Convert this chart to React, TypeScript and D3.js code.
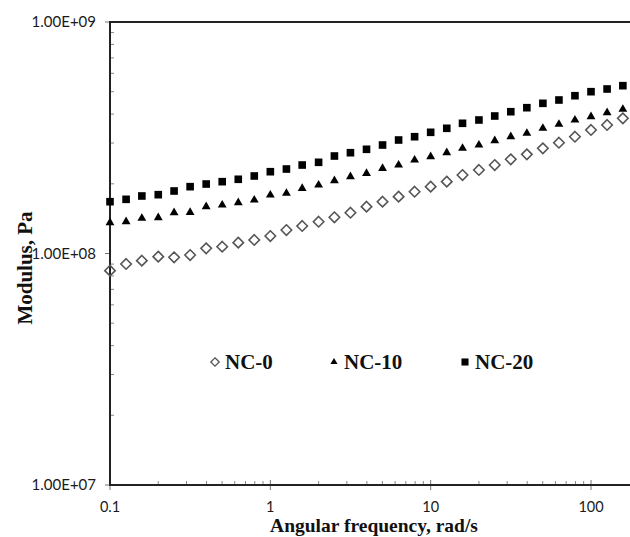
import React from "react";
import * as d3 from "d3";

// angular frequency, rad/s (10 points per decade)
const freq = [
  0.1, 0.126, 0.158, 0.2, 0.251, 0.316, 0.398, 0.501, 0.631, 0.794,
  1, 1.26, 1.58, 2, 2.51, 3.16, 3.98, 5.01, 6.31, 7.94,
  10, 12.6, 15.8, 20, 25.1, 31.6, 39.8, 50.1, 63.1, 79.4,
  100, 126, 158,
];

// modulus, x1e8 Pa
const nc0 = [
  0.843, 0.901, 0.931, 0.969, 0.963, 0.985, 1.053, 1.07, 1.114, 1.144,
  1.19, 1.263, 1.315, 1.372, 1.434, 1.5, 1.593, 1.674, 1.76, 1.849,
  1.944, 2.043, 2.183, 2.295, 2.411, 2.552, 2.682, 2.847, 3.01, 3.195,
  3.416, 3.59, 3.837,
];
const nc10 = [
  1.358, 1.372, 1.419, 1.428, 1.5, 1.505, 1.593, 1.62, 1.657, 1.702,
  1.789, 1.82, 1.912, 1.976, 2.063, 2.147, 2.22, 2.333, 2.411, 2.534,
  2.619, 2.725, 2.847, 2.942, 3.071, 3.195, 3.305, 3.474, 3.615, 3.773,
  3.898, 4.057, 4.197,
];
const nc20 = [
  1.674, 1.714, 1.772, 1.795, 1.862, 1.944, 1.996, 2.043, 2.092, 2.162,
  2.256, 2.317, 2.411, 2.477, 2.637, 2.725, 2.819, 2.942, 3.092, 3.195,
  3.338, 3.474, 3.651, 3.773, 3.926, 4.097, 4.264, 4.454, 4.603, 4.804,
  5.0, 5.136, 5.307,
];

const xTicks = [0.1, 1, 10, 100];
const yTicks = [1e7, 1e8, 1e9];
const yTickLabels = ["1.00E+07", "1.00E+08", "1.00E+09"];
const seriesNames = ["NC-0", "NC-10", "NC-20"];

const W = 630;
const H = 537;

const App = () => {
  const x = d3.scaleLog().domain([0.1, 100]).range([110, 591]);
  const y = d3.scaleLog().domain([1e7, 1e9]).range([485, 22]);

  const xMinor: number[] = [];
  [0.1, 1, 10, 100].forEach((d) => {
    for (let k = 2; k <= 9; k++) if (x(d * k) < W) xMinor.push(d * k);
  });
  const yMinor: number[] = [];
  [1e7, 1e8].forEach((d) => {
    for (let k = 2; k <= 9; k++) yMinor.push(d * k);
  });

  const diamond = d3.symbol(d3.symbolDiamond2, 70)();
  const triangle = d3.symbol(d3.symbolTriangle, 34)();
  const square = d3.symbol(d3.symbolSquare, 58)();

  const series = [
    { name: seriesNames[0], vals: nc0, path: diamond, fill: "none", stroke: "#555" },
    { name: seriesNames[1], vals: nc10, path: triangle, fill: "#000", stroke: "none" },
    { name: seriesNames[2], vals: nc20, path: square, fill: "#000", stroke: "none" },
  ];

  const legendX = [215, 334, 465];
  const legendSym = [
    d3.symbol(d3.symbolDiamond2, 45)(),
    d3.symbol(d3.symbolTriangle, 22)(),
    d3.symbol(d3.symbolSquare, 50)(),
  ];

  const serif = "'Liberation Serif', 'Times New Roman', serif";
  const sans = "Lato, 'Open Sans', sans-serif";

  return (
    <svg
      width={W}
      height={H}
      style={{ position: "absolute", left: 0, top: 0, background: "#fff" }}
    >
      {/* minor ticks */}
      {xMinor.map((d, i) => (
        <line key={"xm" + i} x1={x(d)} x2={x(d)} y1={485} y2={481} stroke="#888" strokeWidth={1} />
      ))}
      {yMinor.map((d, i) => (
        <line key={"ym" + i} x1={110} x2={114} y1={y(d)} y2={y(d)} stroke="#888" strokeWidth={1} />
      ))}
      {/* major ticks */}
      {xTicks.map((d, i) => (
        <line key={"xt" + i} x1={x(d)} x2={x(d)} y1={480} y2={490} stroke="#777" strokeWidth={1} />
      ))}
      {yTicks.map((d, i) => (
        <line key={"yt" + i} x1={105} x2={110} y1={y(d)} y2={y(d)} stroke="#777" strokeWidth={1} />
      ))}
      {/* axes + top border */}
      <line x1={110} x2={W} y1={485} y2={485} stroke="#222" strokeWidth={2} />
      <line x1={110} x2={W} y1={22} y2={22} stroke="#222" strokeWidth={2} />
      <line x1={110} x2={110} y1={21} y2={486} stroke="#222" strokeWidth={2} />

      {/* tick labels */}
      {xTicks.map((d, i) => (
        <text key={"xl" + i} x={x(d)} y={512} textAnchor="middle" fontFamily={sans} fontSize={14.5} fill="#1a1a1a">
          {String(d)}
        </text>
      ))}
      {yTicks.map((d, i) => (
        <text key={"yl" + i} x={96} y={y(d) + 5} textAnchor="end" fontFamily={sans} fontSize={15} fill="#1a1a1a">
          {yTickLabels[i]}
        </text>
      ))}

      {/* data */}
      {series.map((s) =>
        s.vals.map((v, i) => (
          <path
            key={s.name + i}
            d={s.path || ""}
            transform={`translate(${x(freq[i])},${y(v * 1e8)})`}
            fill={s.fill}
            stroke={s.stroke}
            strokeWidth={1.6}
          />
        ))
      )}

      {/* legend */}
      {series.map((s, i) => (
        <g key={"lg" + i} transform={`translate(${legendX[i]},362)`}>
          <path d={legendSym[i] || ""} fill={s.fill} stroke={s.stroke} strokeWidth={1.3} />
          <text x={10} y={7} fontFamily={serif} fontWeight="bold" fontSize={21} fill="#111">
            {s.name}
          </text>
        </g>
      ))}

      {/* axis titles */}
      <text x={374} y={532} textAnchor="middle" fontFamily={serif} fontWeight="bold" fontSize={19.5} fill="#111">
        Angular frequency, rad/s
      </text>
      <text
        transform="translate(32,268) rotate(-90)"
        textAnchor="middle"
        fontFamily={serif}
        fontWeight="bold"
        fontSize={21}
        fill="#111"
      >
        Modulus, Pa
      </text>
    </svg>
  );
};

export default App;
